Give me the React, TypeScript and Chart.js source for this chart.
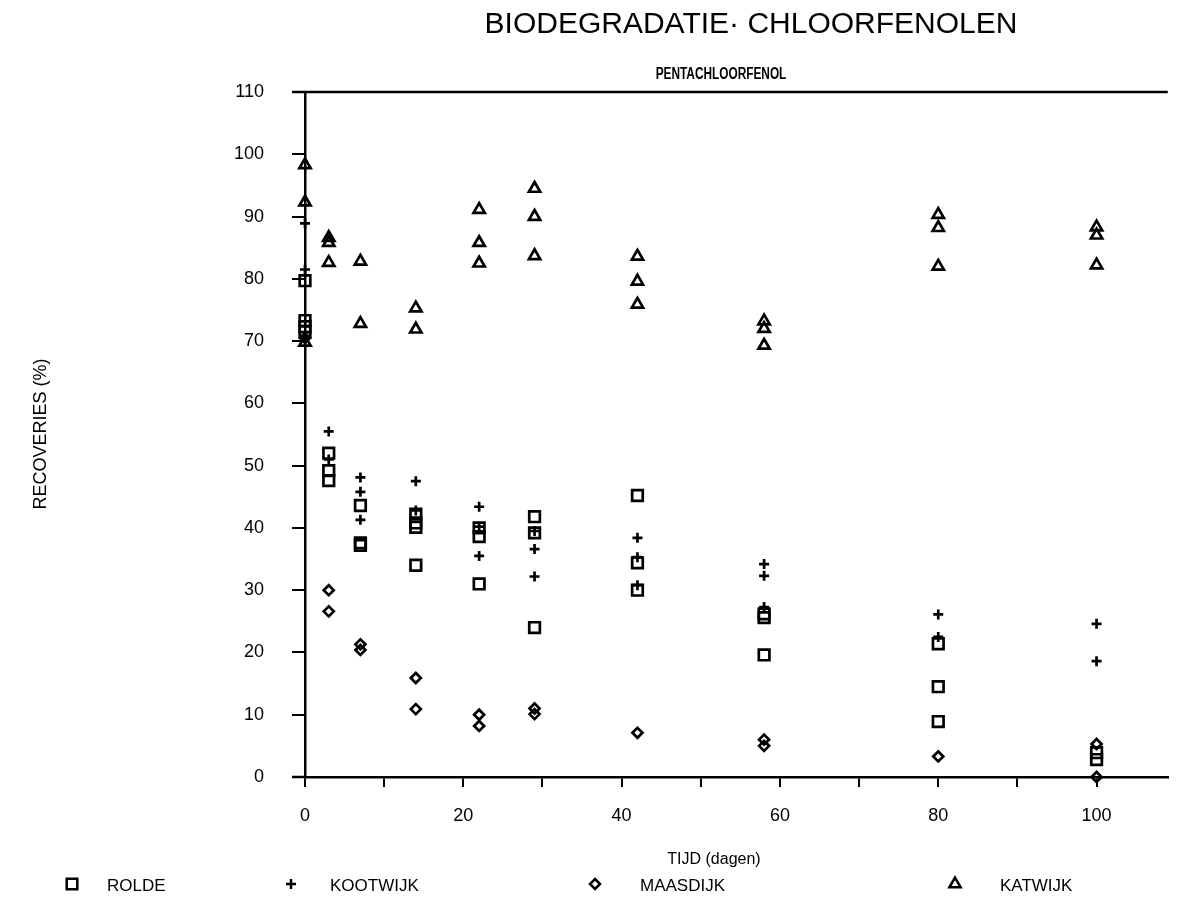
import React, { useEffect, useRef } from "react";
import { Chart, registerables } from "chart.js";

Chart.register(...registerables);

// Sampling days (x)
const days = [0, 3, 7, 14, 22, 29, 42, 58, 80, 100];

// Recoveries (%) per sampling day, one list per day
const rolde = [
  [79.7, 73.3, 72.3, 71.5],
  [52.0, 49.2, 47.6],
  [43.6, 37.6, 37.2],
  [42.2, 40.8, 40.1, 34.0],
  [40.0, 38.6, 31.0],
  [41.8, 39.2, 24.0],
  [45.2, 34.4, 30.0],
  [26.2, 25.6, 19.6],
  [21.4, 14.5, 8.9],
  [3.9, 2.8],
];
const kootwijk = [
  [88.9, 81.5],
  [55.5, 51.0],
  [48.1, 45.8, 41.3],
  [47.5, 42.8],
  [43.4, 40.2, 35.5],
  [39.5, 36.6, 32.2],
  [38.4, 35.3, 30.8],
  [34.2, 32.3, 27.3],
  [26.1, 22.5],
  [24.6, 18.6],
];
const maasdijk = [
  [70.5],
  [30.0, 26.6],
  [21.3, 20.4],
  [15.9, 10.9],
  [10.0, 8.2],
  [11.0, 10.1],
  [7.1],
  [6.0, 5.0],
  [3.3],
  [5.3, 0.0],
];
const katwijk = [
  [98.3, 92.3, 69.8],
  [86.6, 85.8, 82.6],
  [82.8, 72.8],
  [75.3, 71.9],
  [91.1, 85.8, 82.5],
  [94.5, 90.0, 83.7],
  [83.6, 79.6, 75.9],
  [73.2, 72.0, 69.3],
  [90.3, 88.2, 82.0],
  [88.3, 87.0, 82.2],
];

const seriesNames = ["ROLDE", "KOOTWIJK", "MAASDIJK", "KATWIJK"];
const xTicks = [0, 10, 20, 30, 40, 50, 60, 70, 80, 90, 100];
const xTickLabels = ["0", "20", "40", "60", "80", "100"];
const yTicks = [0, 10, 20, 30, 40, 50, 60, 70, 80, 90, 100, 110];

const titleText = "BIODEGRADATIE\u00B7 CHLOORFENOLEN";
const subtitleText = "PENTACHLOORFENOL";
const xTitle = "TIJD (dagen)";
const yTitle = "RECOVERIES (%)";

const FONT = '"Liberation Sans", Arial, sans-serif';

function toPoints(vals: number[][]) {
  return vals.flatMap((arr, i) => arr.map((v) => ({ x: days[i], y: v })));
}

function drawMarker(ctx: CanvasRenderingContext2D, style: string, x: number, y: number) {
  ctx.beginPath();
  if (style === "rect") {
    const s = 5.3;
    ctx.rect(x - s, y - s, 2 * s, 2 * s);
  } else if (style === "cross") {
    ctx.moveTo(x - 5, y);
    ctx.lineTo(x + 5, y);
    ctx.moveTo(x, y - 5);
    ctx.lineTo(x, y + 5);
  } else if (style === "rectRot") {
    ctx.moveTo(x, y - 5);
    ctx.lineTo(x + 5, y);
    ctx.lineTo(x, y + 5);
    ctx.lineTo(x - 5, y);
    ctx.closePath();
  } else {
    const r = 6.5;
    ctx.moveTo(x, y - r);
    ctx.lineTo(x + r * Math.sin((2 * Math.PI) / 3), y - r * Math.cos((2 * Math.PI) / 3));
    ctx.lineTo(x + r * Math.sin((4 * Math.PI) / 3), y - r * Math.cos((4 * Math.PI) / 3));
    ctx.closePath();
  }
  ctx.stroke();
}

function drawScaledText(
  ctx: CanvasRenderingContext2D,
  text: string,
  x: number,
  y: number,
  font: string,
  sx: number,
  align: CanvasTextAlign
) {
  ctx.save();
  ctx.translate(x, y);
  ctx.scale(sx, 1);
  ctx.font = font;
  ctx.textAlign = align;
  ctx.fillText(text, 0, 0);
  ctx.restore();
}

const styles = ["rect", "cross", "rectRot", "triangle"];
const legendMarkerX = [72, 291, 595, 955];
const legendTextX = [107, 330, 640, 1000];

const decorPlugin = {
  id: "decor",
  afterDraw(chart: any) {
    const { ctx, chartArea } = chart;
    const { left, right, top, bottom } = chartArea;
    ctx.save();
    ctx.strokeStyle = "#000";
    ctx.lineWidth = 2.5;
    ctx.beginPath();
    ctx.moveTo(left - 13, top);
    ctx.lineTo(right, top);
    ctx.moveTo(left - 13, bottom);
    ctx.lineTo(left, bottom);
    ctx.stroke();

    ctx.fillStyle = "#000";
    ctx.textBaseline = "alphabetic";
    drawScaledText(ctx, titleText, 751, 33, `30px ${FONT}`, 1, "center");
    drawScaledText(ctx, subtitleText, 721, 79, `bold 16px ${FONT}`, 0.74, "center");
    drawScaledText(ctx, xTitle, 714, 864, `16px ${FONT}`, 1, "center");

    ctx.save();
    ctx.translate(46, 434);
    ctx.rotate(-Math.PI / 2);
    ctx.font = `18px ${FONT}`;
    ctx.textAlign = "center";
    ctx.fillText(yTitle, 0, 0);
    ctx.restore();

    ctx.lineWidth = 2.5;
    seriesNames.forEach((name, i) => {
      drawMarker(ctx, styles[i], legendMarkerX[i], 884);
      drawScaledText(ctx, name, legendTextX[i], 891, `17px ${FONT}`, 1, "left");
    });
    ctx.restore();
  },
};

export default function App() {
  const ref = useRef<HTMLCanvasElement | null>(null);
  useEffect(() => {
    if (!ref.current) return;
    const all = [rolde, kootwijk, maasdijk, katwijk];
    const radii = [7.5, 5, 5, 6.5];
    const chart = new Chart(ref.current, {
      type: "scatter",
      data: {
        datasets: all.map((vals, i) => ({
          label: seriesNames[i],
          data: toPoints(vals),
          pointStyle: styles[i] as any,
          pointRadius: radii[i],
          borderColor: "#000",
          backgroundColor: "rgba(0,0,0,0)",
          borderWidth: 2.7,
          showLine: false,
          clip: false as any,
        })),
      },
      options: {
        responsive: false,
        animation: false,
        events: [],
        layout: { padding: { top: 92, right: 3, left: 0, bottom: 0 } },
        plugins: { legend: { display: false }, tooltip: { enabled: false } },
        scales: {
          x: {
            type: "linear",
            min: 0,
            max: 109,
            afterFit: (s: any) => {
              s.height = 128;
            },
            afterBuildTicks: (s: any) => {
              s.ticks = xTicks.map((v) => ({ value: v }));
            },
            ticks: {
              autoSkip: false,
              maxRotation: 0,
              padding: 18,
              color: "#000",
              font: { family: FONT, size: 18 },
              callback: (v: any) => (xTickLabels.includes(String(v)) ? String(v) : ""),
            },
            grid: { drawOnChartArea: false, drawTicks: true, tickLength: 10, color: "#000", lineWidth: 2 },
            border: { display: true, color: "#000", width: 2.5 },
          },
          y: {
            type: "linear",
            min: 0,
            max: 110,
            afterFit: (s: any) => {
              s.width = 305;
            },
            afterBuildTicks: (s: any) => {
              s.ticks = yTicks.map((v) => ({ value: v }));
            },
            ticks: {
              padding: 28,
              color: "#000",
              font: { family: FONT, size: 18 },
            },
            grid: { drawOnChartArea: false, drawTicks: true, tickLength: 13, color: "#000", lineWidth: 2 },
            border: { display: true, color: "#000", width: 2.5 },
          },
        },
      },
      plugins: [decorPlugin],
    });
    return () => chart.destroy();
  }, []);
  return (
    <div style={{ position: "fixed", left: 0, top: 0, width: 1178, height: 905, background: "#fff" }}>
      <canvas ref={ref} width={1178} height={905} />
    </div>
  );
}
